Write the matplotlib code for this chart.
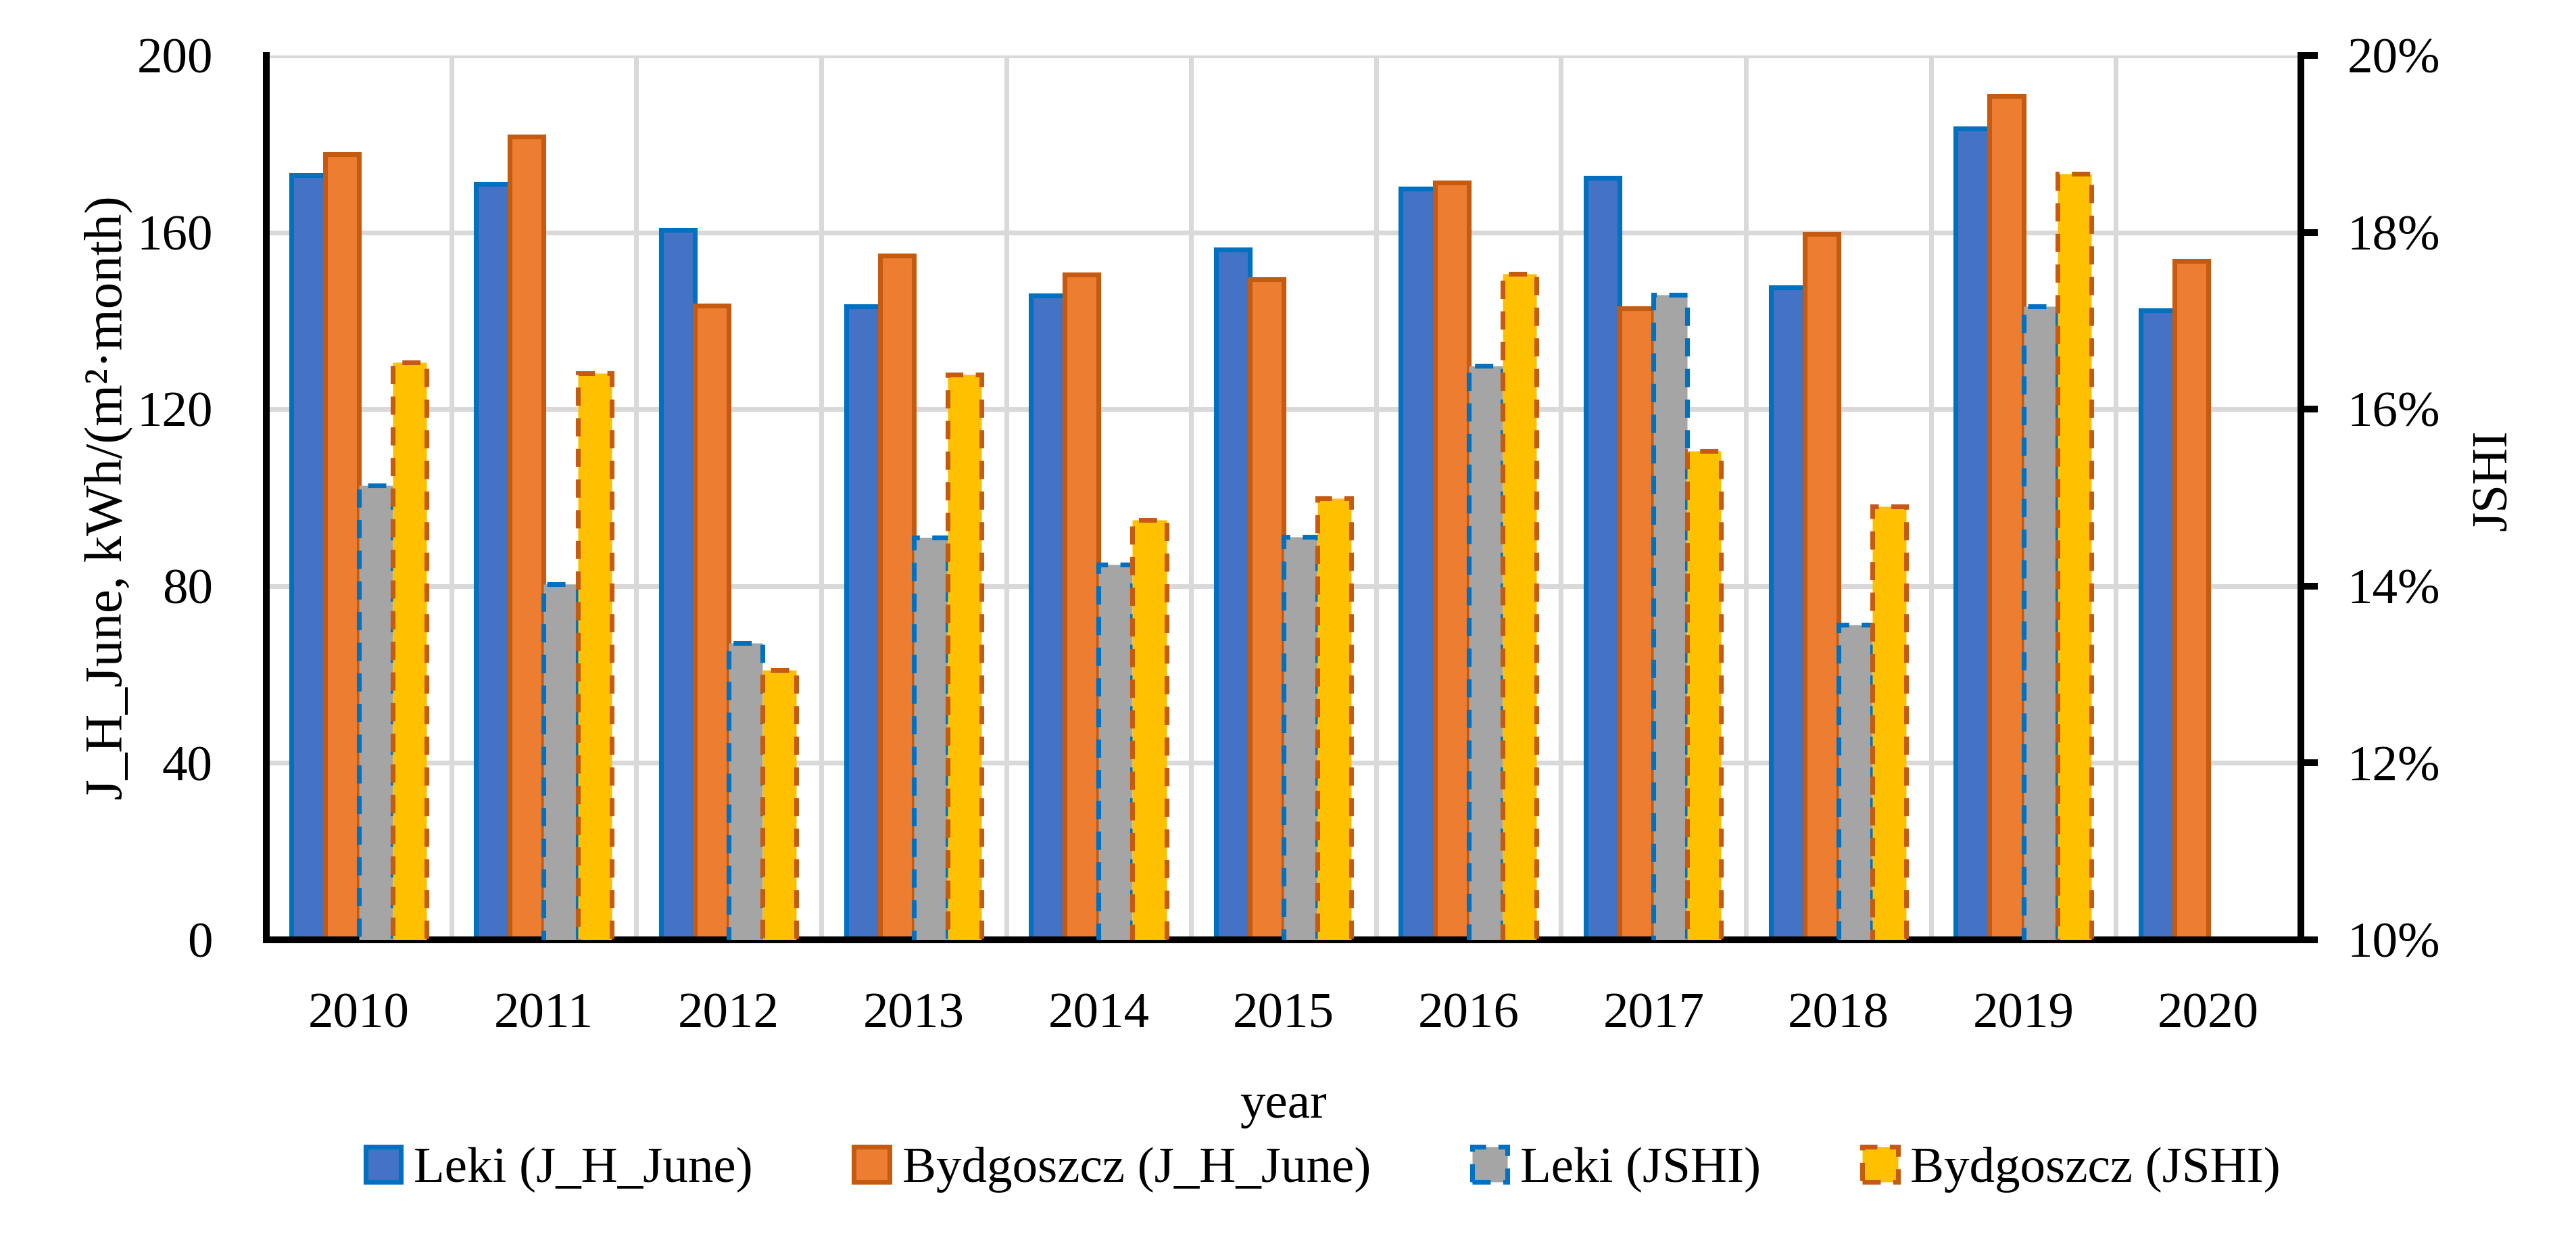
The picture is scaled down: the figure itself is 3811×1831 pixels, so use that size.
import numpy as np
import matplotlib
matplotlib.use("Agg")
import matplotlib.pyplot as plt
from matplotlib.ticker import PercentFormatter, MultipleLocator, FixedLocator

plt.rcParams['font.family'] = ['Liberation Serif', 'DejaVu Serif']

# Data
years = ['2010', '2011', '2012', '2013', '2014', '2015', '2016', '2017', '2018', '2019', '2020']
leki_jh = [173.0, 171.0, 160.5, 143.2, 145.7, 156.1, 169.9, 172.4, 147.6, 183.5, 142.4]
bydg_jh = [177.6, 181.7, 143.5, 154.7, 150.4, 149.4, 171.3, 142.8, 159.7, 190.9, 153.5]
# JSHI in percent (2020 not available)
leki_jshi = [15.14, 14.02, 13.36, 14.55, 14.24, 14.56, 16.49, 17.29, 13.56, 17.16]
bydg_jshi = [16.53, 16.41, 13.05, 16.39, 14.75, 14.99, 17.53, 15.53, 14.90, 18.66]

# Colours
blue_fill, blue_edge = '#4472C4', '#0070C0'
orange_fill, orange_edge = '#ED7D31', '#C55A11'
gray_fill = '#A5A5A5'
yellow_fill = '#FFC000'

fig = plt.figure(figsize=(3811 / 300, 1831 / 300), dpi=300)
ax = fig.add_axes([394 / 3811, 1 - 1390 / 1831, (3404 - 394) / 3811, (1390 - 82) / 1831])
ax2 = ax.twinx()

x = np.arange(len(years))
w = 0.183
lw = 1.7
dash = (0, (3.8, 2.6))

b1 = ax.bar(x - 1.5 * w, leki_jh, w, color=blue_fill, edgecolor=blue_edge,
            linewidth=lw, label='Leki (J_H_June)', zorder=3)
b2 = ax.bar(x - 0.5 * w, bydg_jh, w, color=orange_fill, edgecolor=orange_edge,
            linewidth=lw, label='Bydgoszcz (J_H_June)', zorder=3)

xs = x[:len(leki_jshi)]
b3 = ax2.bar(xs + 0.5 * w, np.array(leki_jshi) / 100, w, color=gray_fill,
             edgecolor=blue_edge, linewidth=lw, linestyle=dash,
             label='Leki (JSHI)', zorder=3)
b4 = ax2.bar(xs + 1.5 * w, np.array(bydg_jshi) / 100, w, color=yellow_fill,
             edgecolor=orange_edge, linewidth=lw, linestyle=dash,
             label='Bydgoszcz (JSHI)', zorder=4)

# Primary axis
ax.set_xlim(-0.5, len(years) - 0.5)
ax.set_ylim(0, 200)
ax.yaxis.set_major_locator(MultipleLocator(40))
ax.set_xticks(x)
ax.set_xticklabels(years)
ax.xaxis.set_minor_locator(FixedLocator(np.arange(0.5, len(years) - 0.5, 1)))
ax.tick_params(axis='x', which='both', length=0, labelsize=18, pad=18.8)
ax.tick_params(axis='y', length=0, labelsize=18, pad=19)
ax.grid(True, axis='y', which='major', color='#D9D9D9', linewidth=1.7, zorder=0)
ax.grid(True, axis='x', which='minor', color='#D9D9D9', linewidth=1.7, zorder=0)
ax.grid(False, axis='x', which='major')
ax.set_axisbelow(True)
for s in ['top', 'right']:
    ax.spines[s].set_visible(False)
ax.spines['left'].set_linewidth(2.4)
ax.spines['bottom'].set_linewidth(2.4)

ax.set_ylabel('J_H_June, kWh/(m²·month)', fontsize=19, va='center')
ax.yaxis.set_label_coords(-0.0775, 0.5)
ax.set_xlabel('year', fontsize=18)
ax.xaxis.set_label_coords(0.5, -0.162)

# Secondary axis
ax2.set_ylim(0.10, 0.20)
ax2.yaxis.set_major_locator(MultipleLocator(0.02))
ax2.yaxis.set_major_formatter(PercentFormatter(1.0, decimals=0))
ax2.tick_params(axis='y', length=6, width=2.4, labelsize=18, pad=10.5, direction='out')
for s in ['top', 'left']:
    ax2.spines[s].set_visible(False)
ax2.spines['right'].set_linewidth(2.4)
ax2.spines['bottom'].set_linewidth(2.4)
ax2.set_ylabel('JSHI', fontsize=18, va='center', rotation=90)
ax2.yaxis.set_label_coords(1.095, 0.52)

fig.legend(handles=[b1, b2, b3, b4], loc='center', bbox_to_anchor=(0.5136, 0.0552),
           ncol=4, frameon=False, fontsize=18, handlelength=0.7, handleheight=0.7,
           handletextpad=0.25, columnspacing=2.0, borderpad=0)

fig.savefig('out.png', dpi=300)
